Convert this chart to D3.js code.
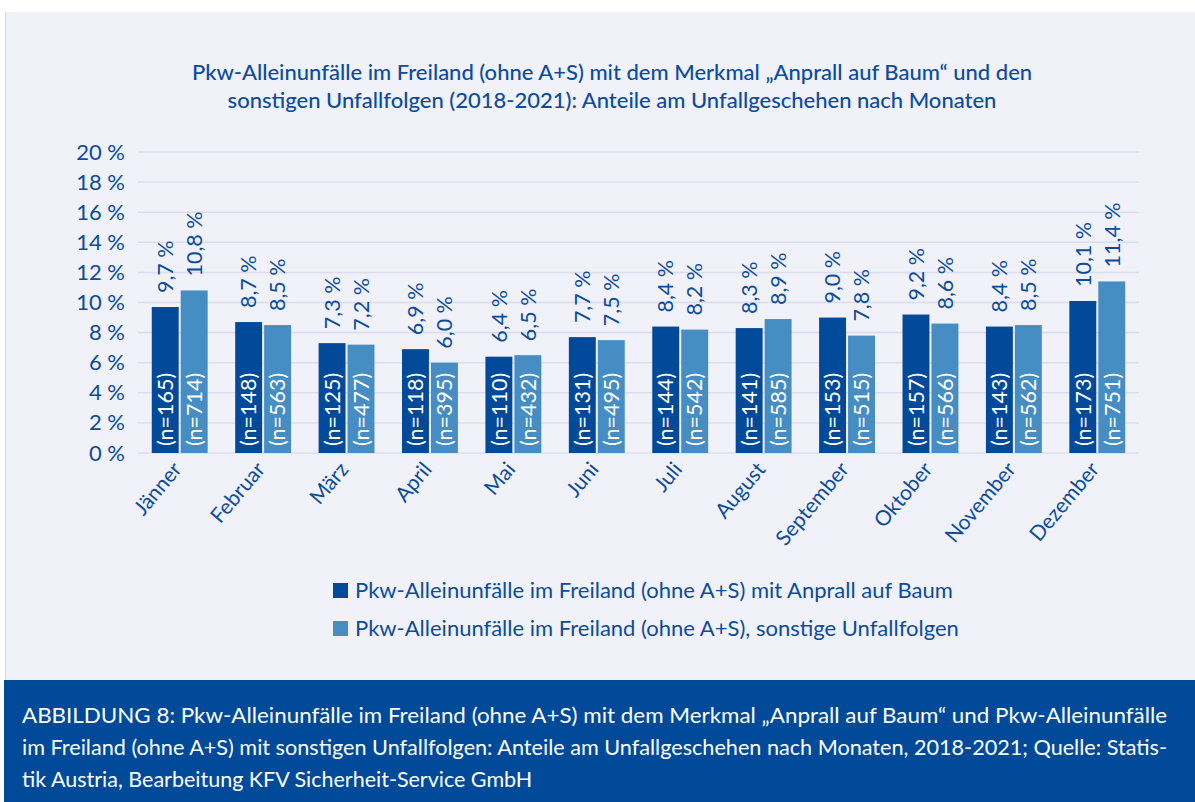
<!DOCTYPE html>
<html lang="de">
<head>
<meta charset="UTF-8">
<title>Pkw-Alleinunfälle nach Monaten</title>
<script src="https://d3js.org/d3.v7.min.js"></script>
<style>
  html, body { margin: 0; padding: 0; background: #fff; }
  svg { display: block; font-family: Lato, "Open Sans", sans-serif; }
</style>
</head>
<body>
<script>
'use strict'

// data
const months = ['Jänner', 'Februar', 'März', 'April', 'Mai', 'Juni', 'Juli', 'August', 'September', 'Oktober', 'November', 'Dezember']
const baumShare = [9.7, 8.7, 7.3, 6.9, 6.4, 7.7, 8.4, 8.3, 9.0, 9.2, 8.4, 10.1]
const baumN = [165, 148, 125, 118, 110, 131, 144, 141, 153, 157, 143, 173]
const sonstShare = [10.8, 8.5, 7.2, 6.0, 6.5, 7.5, 8.2, 8.9, 7.8, 8.6, 8.5, 11.4]
const sonstN = [714, 563, 477, 395, 432, 495, 542, 585, 515, 566, 562, 751]
const yTicks = [0, 2, 4, 6, 8, 10, 12, 14, 16, 18, 20]
const seriesNames = [
  'Pkw-Alleinunfälle im Freiland (ohne A+S) mit Anprall auf Baum',
  'Pkw-Alleinunfälle im Freiland (ohne A+S), sonstige Unfallfolgen'
]

const W = 1195, H = 802
const dark = '#004a99', light = '#468dc3', textBlue = '#0b4c9c'
const panelBg = '#f0f1f9'

const svg = d3.select('body').append('svg')
  .attr('width', W)
  .attr('height', H)

// panel + footer
svg.append('rect').attr('x', 5).attr('y', 12).attr('width', W - 5).attr('height', 668).attr('fill', panelBg)
svg.append('line').attr('x1', 5.5).attr('x2', 5.5).attr('y1', 12).attr('y2', 680).attr('stroke', '#d6d6dc').attr('stroke-width', 1)
svg.append('rect').attr('x', 4).attr('y', 680).attr('width', W - 4).attr('height', H - 680).attr('fill', '#004a99')

// title
const title = svg.append('text')
  .attr('text-anchor', 'middle')
  .attr('fill', textBlue)
  .attr('font-size', 22)
  .attr('font-weight', 500)
title.append('tspan').attr('x', 612).attr('y', 80)
  .text('Pkw-Alleinunfälle im Freiland (ohne A+S) mit dem Merkmal „Anprall auf Baum“ und den')
title.append('tspan').attr('x', 612).attr('y', 108)
  .text('sonstigen Unfallfolgen (2018-2021): Anteile am Unfallgeschehen nach Monaten')

// scales
const y = d3.scaleLinear().domain([0, 20]).range([453, 152])
const x0 = d3.scaleBand().domain(months).range([138, 1139]).paddingInner(0.33).paddingOuter(0.165)
const x1 = d3.scaleBand().domain([0, 1]).range([0, x0.bandwidth()]).paddingInner(0.07)

// grid
svg.append('g')
  .selectAll('line')
  .data(yTicks)
  .join('line')
  .attr('x1', 138).attr('x2', 1139)
  .attr('y1', d => y(d)).attr('y2', d => y(d))
  .attr('stroke', '#dcdcef')
  .attr('stroke-width', 1.5)

// y axis labels
const yAxis = d3.axisLeft(y).tickValues(yTicks).tickSize(0).tickPadding(0)
  .tickFormat(d => d + ' %')
const yg = svg.append('g').attr('transform', 'translate(125,0)').call(yAxis)
yg.select('.domain').remove()
yg.selectAll('text')
  .attr('font-family', 'Lato, sans-serif')
  .attr('font-size', 22)
  .attr('fill', textBlue)

const rows = months.map((m, i) => ({
  month: m,
  vals: [
    { s: 0, v: baumShare[i], n: baumN[i] },
    { s: 1, v: sonstShare[i], n: sonstN[i] }
  ]
}))

const groups = svg.append('g')
  .selectAll('g')
  .data(rows)
  .join('g')
  .attr('transform', d => `translate(${x0(d.month)},0)`)

const cells = groups.selectAll('g')
  .data(d => d.vals)
  .join('g')

cells.append('rect')
  .attr('x', d => x1(d.s))
  .attr('width', x1.bandwidth())
  .attr('y', d => y(d.v))
  .attr('height', d => y(0) - y(d.v))
  .attr('fill', d => d.s === 0 ? dark : light)

const fmt = v => v.toFixed(1).replace('.', ',') + ' %'

cells.append('text')
  .attr('transform', d => `translate(${x1(d.s) + x1.bandwidth() / 2},${y(d.v) - 14}) rotate(-90)`)
  .attr('dy', '0.36em')
  .attr('font-size', 21.5)
  .attr('fill', textBlue)
  .text(d => fmt(d.v))

cells.append('text')
  .attr('transform', d => `translate(${x1(d.s) + x1.bandwidth() / 2},${y(0) - 7}) rotate(-90)`)
  .attr('dy', '0.36em')
  .attr('font-size', 21.5)
  .attr('fill', '#fff')
  .text(d => `(n=${d.n})`)

// month labels
svg.append('g')
  .selectAll('text')
  .data(months)
  .join('text')
  .attr('transform', d => `translate(${x0(d) + x0.bandwidth() / 2 + 3},470) rotate(-50)`)
  .attr('text-anchor', 'end')
  .attr('font-size', 21)
  .attr('fill', textBlue)
  .text(d => d)

// legend
const legend = svg.append('g')
  .selectAll('g')
  .data(seriesNames)
  .join('g')
  .attr('transform', (d, i) => `translate(333,${583 + i * 38})`)
legend.append('rect').attr('width', 15).attr('height', 15).attr('fill', (d, i) => i === 0 ? dark : light)
legend.append('text')
  .attr('x', 22).attr('y', 15)
  .attr('font-size', 22)
  .attr('fill', textBlue)
  .text(d => d)

// caption
const caption = [
  'ABBILDUNG 8: Pkw-Alleinunfälle im Freiland (ohne A+S) mit dem Merkmal „Anprall auf Baum“ und Pkw-Alleinunfälle',
  'im Freiland (ohne A+S) mit sonstigen Unfallfolgen: Anteile am Unfallgeschehen nach Monaten, 2018-2021; Quelle: Statis-',
  'tik Austria, Bearbeitung KFV Sicherheit-Service GmbH'
]
svg.append('g')
  .selectAll('text')
  .data(caption)
  .join('text')
  .attr('x', 22)
  .attr('y', (d, i) => 723 + i * 32)
  .attr('font-size', 21.5)
  .attr('fill', '#fff')
  .each(function (d, i) {
    // the first two lines are justified to the same width
    if (i < 2) d3.select(this).attr('textLength', 1145).attr('lengthAdjust', 'spacingAndGlyphs')
  })
  .text(d => d)
</script>
</body>
</html>
